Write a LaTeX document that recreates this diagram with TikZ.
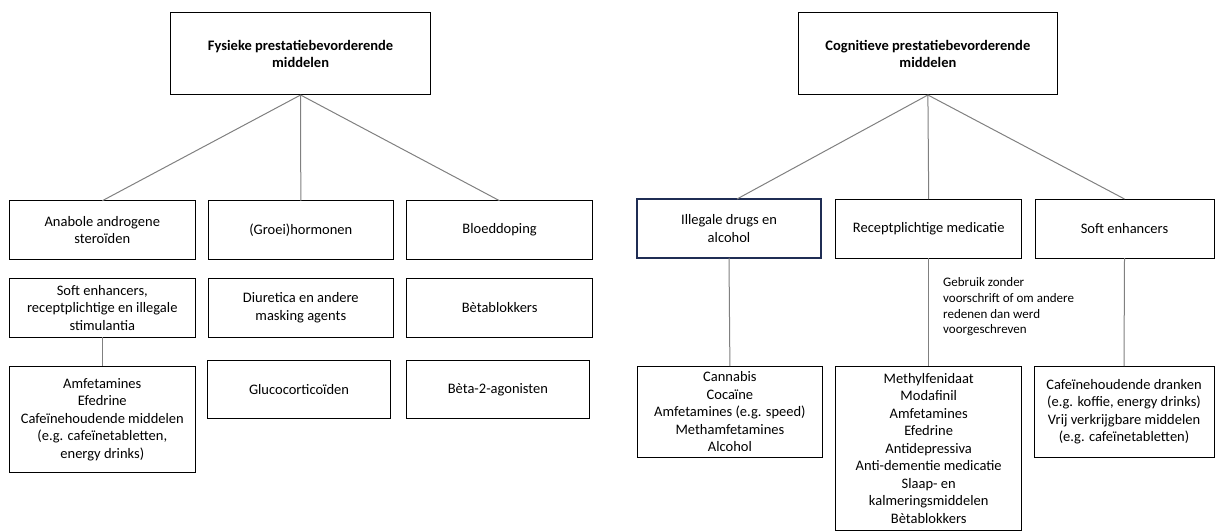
\documentclass[tikz,border=0pt]{standalone}
\usepackage{fontspec}
\setmainfont{Carlito}
\definecolor{navyline}{RGB}{31,45,84}
\definecolor{conn}{RGB}{128,128,128}
\tikzset{
  box/.style={draw=black, line width=1pt, inner sep=2pt, outer sep=0pt, align=center,
    font=\fontsize{14.5}{17.5}\selectfont},
  titlebox/.style={box, font=\fontsize{14.5}{17.7}\selectfont\bfseries},
  navybox/.style={box, draw=navyline, line width=1.6pt},
  link/.style={draw=conn, line width=1pt},
  note/.style={inner sep=0pt, align=left, anchor=west, font=\fontsize{13}{15.7}\selectfont}
}
\begin{document}
\begin{tikzpicture}[x=1pt,y=-1pt]
\useasboundingbox (0,0) rectangle (1215,532);
% left tree
\node[titlebox, minimum width=259.8pt, minimum height=82pt] (T1) at (300.6,54) {Fysieke prestatiebevorderende\\middelen};
\node[box, minimum width=185.4pt, minimum height=58.3pt] (A1) at (102.3,229.9) {Anabole androgene\\stero\"iden};
\node[box, minimum width=184.4pt, minimum height=58.3pt] (B1) at (300.8,229.9) {(Groei)hormonen};
\node[box, minimum width=185.6pt, minimum height=58.3pt] (C1) at (499.6,229.9) {Bloeddoping};
\node[box, minimum width=185.4pt, minimum height=59pt] (A2) at (102.3,307.8) {Soft enhancers,\\receptplichtige en illegale\\stimulantia};
\node[box, minimum width=184.4pt, minimum height=59pt] (B2) at (300.8,307.8) {Diuretica en andere\\masking agents};
\node[box, minimum width=185.6pt, minimum height=59pt] (C2) at (499.6,307.8) {Bètablokkers};
\node[box, minimum width=185.4pt, minimum height=106.7pt] (A3) at (102.3,419.4) {Amfetamines\\Efedrine\\Cafeïnehoudende middelen\\(e.g. cafeïnetabletten,\\energy drinks)};
\node[box, minimum width=183.3pt, minimum height=58.7pt] (B3) at (299,389.4) {Glucocorticoïden};
\node[box, minimum width=183.7pt, minimum height=58.7pt] (C3) at (497.9,389.4) {Bèta-2-agonisten};
\draw[link] (T1.south) -- (A1.north);
\draw[link] (T1.south) -- (B1.north);
\draw[link] (T1.south) -- (C1.north);
\draw[link] (A2.south) -- (A3.north);
% right tree
\node[titlebox, minimum width=259.7pt, minimum height=82pt] (T2) at (927.9,54) {Cognitieve prestatiebevorderende\\middelen};
\node[navybox, minimum width=183.5pt, minimum height=59pt] (D1) at (729,228.5) {Illegale drugs en\\alcohol};
\node[box, minimum width=185.9pt, minimum height=59pt] (E1) at (928.7,228.5) {Receptplichtige medicatie};
\node[box, minimum width=179pt, minimum height=59pt] (F1) at (1124.5,228.5) {Soft enhancers};
\node[box, minimum width=185.1pt, minimum height=91.3pt] (D2) at (729.9,411.7) {Cannabis\\Cocaïne\\Amfetamines (e.g. speed)\\Methamfetamines\\Alcohol};
\node[box, minimum width=185.9pt, minimum height=164.7pt] (E2) at (928.7,448.4) {Methylfenidaat\\Modafinil\\Amfetamines\\Efedrine\\Antidepressiva\\Anti-dementie medicatie\\Slaap- en\\kalmeringsmiddelen\\Bètablokkers};
\node[box, minimum width=180pt, minimum height=91pt] (F2) at (1124,411.5) {Cafeïnehoudende dranken\\(e.g. koffie, energy drinks)\\Vrij verkrijgbare middelen\\(e.g. cafeïnetabletten)};
\node[note] (N) at (943,306.8) {Gebruik zonder\\voorschrift of om andere\\redenen dan werd\\voorgeschreven};
\draw[link] (T2.south) -- ([xshift=8pt]D1.north);
\draw[link] (T2.south) -- (E1.north);
\draw[link] (T2.south) -- (F1.north);
\draw[link] (D1.south) -- (D2.north);
\draw[link] (E1.south) -- (E2.north);
\draw[link] (F1.south) -- (F2.north);
\end{tikzpicture}
\end{document}
